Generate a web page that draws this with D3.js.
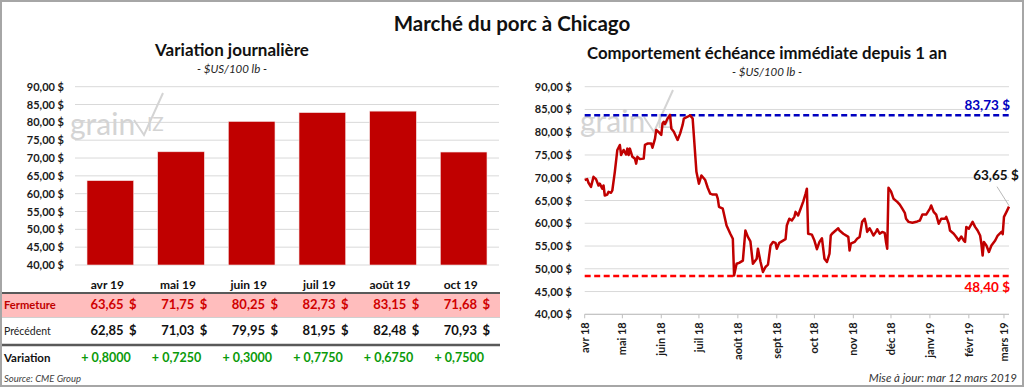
<!DOCTYPE html>
<html>
<head>
<meta charset="utf-8">
<script src="https://cdn.jsdelivr.net/npm/d3@7"></script>
<style>
  body { margin: 0; background: #fff; }
  svg { display: block; }
</style>
</head>
<body>
<svg id="chart" width="1024" height="387"></svg>
<script>
// Marché du porc à Chicago - two panels: daily variation + 1 year nearby contract

const FONT = "Lato, 'Open Sans', sans-serif";

// left panel: contracts
const contracts = ["avr 19", "mai 19", "juin 19", "juil 19", "août 19", "oct 19"];
const closeValues = [63.65, 71.75, 80.25, 82.73, 83.15, 71.68];
const prevValues = [62.85, 71.03, 79.95, 81.95, 82.48, 70.93];
const changeValues = [0.8, 0.725, 0.3, 0.775, 0.675, 0.75];

// right panel: nearby contract, days counted from 1 April 2018
const monthLabels = ["avr 18", "mai 18", "juin 18", "juil 18", "août 18", "sept 18",
  "oct 18", "nov 18", "déc 18", "janv 19", "févr 19", "mars 19"];
const priceDay = [0, 2, 3, 5, 7, 9, 11, 12, 14, 15, 16, 18, 19, 21, 22, 24, 26, 28, 29, 31,
  33, 34, 35, 36, 38, 40, 41, 42, 44, 47, 48, 50, 53, 54, 56, 57, 59, 61, 62, 63,
  64, 66, 68, 69, 71, 74, 76, 78, 79, 82, 84, 86, 89, 91, 93, 96, 98, 100, 102, 105,
  106, 107, 110, 113, 116, 118, 119, 121, 123, 126, 128, 130, 132, 134, 137, 138, 140, 142, 144, 146,
  148, 150, 152, 153, 155, 158, 160, 161, 163, 165, 167, 168, 170, 172, 174, 176, 177, 178, 181, 183,
  185, 187, 189, 191, 193, 195, 196, 197, 199, 202, 203, 206, 210, 211, 212, 215, 217, 219, 221, 223,
  224, 225, 227, 228, 230, 232, 233, 235, 237, 239, 240, 241, 242, 244, 246, 249, 251, 253, 255, 256,
  258, 261, 265, 267, 269, 272, 275, 276, 278, 280, 282, 284, 287, 288, 290, 291, 294, 296, 298, 300,
  302, 303, 304, 306, 309, 311, 313, 315, 316, 317, 318, 320, 322, 324, 327, 329, 332, 333, 334, 336, 338];
const priceClose = [69.5, 69.7, 68.9, 68.0, 70.2, 69.7, 68.3, 68.7, 67.6, 68.3, 66.1, 66.3, 66.9, 66.7, 67.2, 71.3, 76.1, 77.2, 75.0, 76.1,
  75.1, 76.4, 75.0, 76.4, 74.6, 74.2, 73.1, 74.6, 74.1, 74.2, 77.2, 77.5, 77.5, 76.6, 78.6, 80.5, 80.0, 79.4, 81.9, 82.3,
  81.8, 83.0, 83.8, 80.8, 80.1, 78.3, 79.7, 81.6, 83.0, 83.4, 83.7, 83.0, 71.3, 68.7, 70.5, 69.5, 67.8, 66.5, 66.3, 66.3,
  65.4, 63.6, 63.2, 59.5, 57.7, 56.6, 48.5, 51.1, 51.3, 51.8, 58.4, 57.0, 56.0, 51.1, 52.2, 54.4, 51.6, 49.3, 50.4, 50.9,
  55.1, 55.9, 55.7, 54.4, 55.7, 56.2, 56.5, 59.5, 61.0, 60.6, 61.4, 62.5, 61.7, 63.2, 64.7, 66.5, 67.6, 57.7, 57.5, 56.2,
  54.3, 55.9, 56.7, 52.2, 51.5, 53.3, 57.3, 57.7, 58.2, 58.9, 58.4, 57.7, 57.0, 54.0, 55.5, 55.9, 56.6, 57.0, 60.3, 61.0,
  59.9, 58.1, 58.9, 58.4, 57.3, 58.1, 58.7, 57.7, 58.1, 57.9, 55.9, 54.4, 67.8, 67.0, 65.4, 64.7, 64.1, 63.2, 62.3, 61.0,
  60.3, 60.1, 60.4, 60.6, 61.9, 61.9, 63.2, 63.9, 62.5, 61.9, 59.9, 61.0, 61.0, 61.4, 59.9, 58.4, 57.7, 57.0, 56.2, 57.1,
  56.2, 55.9, 59.2, 58.8, 60.3, 59.2, 58.4, 57.3, 55.5, 52.9, 55.9, 55.1, 53.7, 55.1, 56.2, 57.3, 58.1, 57.6, 61.4, 62.5, 63.65];
const highValue = 83.73;
const lowValue = 48.40;

const START = new Date(2018, 3, 1);
const series = priceDay.map((d, i) => ({ date: d3.timeDay.offset(START, d), value: priceClose[i] }));
const lastPoint = series[series.length - 1];

const fr = d3.formatLocale({ decimal: ",", thousands: " ", grouping: [3], currency: ["", " $"] });
const fmt2 = fr.format(",.2f");
const fmt4 = fr.format(".4f");

const svg = d3.select("#chart");

// outer frame
svg.append("rect")
  .attr("x", 1).attr("y", 1).attr("width", 1022).attr("height", 385)
  .style("fill", "none").style("stroke", "#a6a6a6").style("stroke-width", 2);

svg.append("text")
  .attr("x", 512).attr("y", 31)
  .attr("text-anchor", "middle")
  .text("Marché du porc à Chicago")
  .style("font-family", FONT).style("font-size", "20.5px").style("font-weight", "bold")
  .style("fill", "#111");

function titles(cx, y, title, size) {
  svg.append("text")
    .attr("x", cx).attr("y", y)
    .attr("text-anchor", "middle")
    .text(title)
    .style("font-family", FONT).style("font-size", size).style("font-weight", "bold")
    .style("fill", "#111");
  svg.append("text")
    .attr("x", cx).attr("y", y + 17)
    .attr("text-anchor", "middle")
    .text("- $US/100 lb -")
    .style("font-family", FONT).style("font-size", "11.5px").style("font-style", "italic")
    .style("fill", "#262626");
}

function watermark(x, y) {
  let g = svg.append("g").attr("transform", "translate(" + x + "," + y + ")");
  g.append("text")
    .attr("x", 0).attr("y", 0)
    .text("grain")
    .style("font-family", FONT).style("font-size", "30px")
    .style("fill", "#d4d4d4");
  g.append("path")
    .attr("d", "M 64,-15 L 74,0 L 93,-42")
    .style("fill", "none").style("stroke", "#d4d4d4").style("stroke-width", 2);
  g.append("text")
    .attr("x", 77).attr("y", -4)
    .text("IZ")
    .style("font-family", FONT).style("font-size", "19px")
    .style("fill", "#d4d4d4");
}

function yAxisLabels(scale, xRight, x1, x2) {
  let ticks = scale.ticks(10);
  svg.append("g").selectAll("line")
    .data(ticks).enter().append("line")
    .attr("x1", x1).attr("x2", x2)
    .attr("y1", d => scale(d)).attr("y2", d => scale(d))
    .style("stroke", "#d9d9d9").style("stroke-width", 1);
  svg.append("g").selectAll("text")
    .data(ticks).enter().append("text")
    .attr("x", xRight).attr("y", d => scale(d) + 4)
    .attr("text-anchor", "end")
    .text(d => fmt2(d) + " $")
    .style("font-family", FONT).style("font-size", "11px").style("font-weight", "bold")
    .style("fill", "#1a1a1a");
}

// ---------- left panel ----------
titles(232, 56, "Variation journalière", "17px");

const xL = d3.scaleBand().domain(contracts).range([75, 499]).paddingInner(0.34).paddingOuter(0.17);
const yL = d3.scaleLinear().domain([40, 90]).range([265, 86.7]);

yAxisLabels(yL, 64, 75, 499);
watermark(70, 135);

svg.append("g").selectAll("rect")
  .data(contracts).enter().append("rect")
  .attr("x", d => xL(d))
  .attr("y", (d, i) => yL(closeValues[i]))
  .attr("width", xL.bandwidth())
  .attr("height", (d, i) => yL(40) - yL(closeValues[i]))
  .style("fill", "#c00000")
  .style("stroke", "#f4dede").style("stroke-width", 0.6);

// table
const step = xL.step();
const colEnd = d => xL(d) + xL.bandwidth() + step * 0.17;
const colMid = d => xL(d) + xL.bandwidth() / 2;

svg.append("rect")
  .attr("x", 2).attr("y", 293).attr("width", 498).attr("height", 24)
  .style("fill", "#ffbdbd");
svg.append("line")
  .attr("x1", 2).attr("x2", 500).attr("y1", 293).attr("y2", 293)
  .style("stroke", "#595959").style("stroke-width", 2);
svg.append("line")
  .attr("x1", 2).attr("x2", 500).attr("y1", 317.5).attr("y2", 317.5)
  .style("stroke", "#d0d0d0").style("stroke-width", 1);
svg.append("line")
  .attr("x1", 2).attr("x2", 500).attr("y1", 345).attr("y2", 345)
  .style("stroke", "#595959").style("stroke-width", 2.5);

svg.append("g").selectAll("text")
  .data(contracts).enter().append("text")
  .attr("x", d => colMid(d) - 3).attr("y", 289)
  .attr("text-anchor", "middle")
  .text(d => d)
  .style("font-family", FONT).style("font-size", "12px").style("font-weight", "bold")
  .style("fill", "#111");

function rowLabel(y, label, color, weight, size) {
  svg.append("text")
    .attr("x", 4).attr("y", y)
    .text(label)
    .style("font-family", FONT).style("font-size", size).style("font-weight", weight)
    .style("fill", color);
}

function moneyRow(y, values, color) {
  let g = svg.append("g");
  g.selectAll("text.num")
    .data(contracts).enter().append("text")
    .attr("class", "num")
    .attr("x", d => colEnd(d) - 22).attr("y", y)
    .attr("text-anchor", "end")
    .text((d, i) => fmt2(values[i]))
    .style("font-family", FONT).style("font-size", "13px").style("font-weight", "bold")
    .style("fill", color);
  g.selectAll("text.cur")
    .data(contracts).enter().append("text")
    .attr("class", "cur")
    .attr("x", d => colEnd(d) - 9).attr("y", y)
    .attr("text-anchor", "end")
    .text("$")
    .style("font-family", FONT).style("font-size", "13px").style("font-weight", "bold")
    .style("fill", color);
}

rowLabel(309, "Fermeture", "#c00000", "bold", "11.2px");
moneyRow(309, closeValues, "#d00000");
rowLabel(335, "Précédent", "#222", "normal", "10.5px");
moneyRow(335, prevValues, "#111");
rowLabel(362, "Variation", "#111", "bold", "11.5px");

svg.append("g").selectAll("text")
  .data(contracts).enter().append("text")
  .attr("x", d => colEnd(d) - 15).attr("y", 362)
  .attr("text-anchor", "end")
  .text((d, i) => "+ " + fmt4(changeValues[i]))
  .style("font-family", FONT).style("font-size", "12.5px").style("font-weight", "bold")
  .style("fill", "#0a9a0a");

svg.append("text")
  .attr("x", 4).attr("y", 382)
  .text("Source: CME Group")
  .style("font-family", FONT).style("font-size", "9.5px").style("font-style", "italic")
  .style("fill", "#404040");

// ---------- right panel ----------
titles(767, 59, "Comportement échéance immédiate depuis 1 an", "16.8px");

const xR = d3.scaleTime().domain([START, lastPoint.date]).range([584.7, 1009]);
const yR = d3.scaleLinear().domain([40, 90]).range([314.3, 86.7]);

yAxisLabels(yR, 572, 584.7, 1009);
watermark(580, 132);

// x axis
const monthTicks = xR.ticks(d3.timeMonth.every(1));
svg.append("line")
  .attr("x1", 584.7).attr("x2", 1009).attr("y1", yR(40)).attr("y2", yR(40))
  .style("stroke", "#bfbfbf").style("stroke-width", 1);
svg.append("g").selectAll("line")
  .data(monthTicks).enter().append("line")
  .attr("x1", d => xR(d)).attr("x2", d => xR(d))
  .attr("y1", yR(40)).attr("y2", yR(40) + 4)
  .style("stroke", "#bfbfbf").style("stroke-width", 1);
svg.append("g").selectAll("text")
  .data(monthTicks).enter().append("text")
  .attr("transform", d => "translate(" + (xR(d) + 4) + "," + (yR(40) + 8) + ") rotate(-90)")
  .attr("text-anchor", "end")
  .text((d, i) => monthLabels[i])
  .style("font-family", FONT).style("font-size", "11px").style("font-weight", "bold")
  .style("fill", "#1a1a1a");

// high / low reference lines
function refLine(value, color, labelY) {
  svg.append("line")
    .attr("x1", 584.7).attr("x2", 1009)
    .attr("y1", yR(value)).attr("y2", yR(value))
    .style("stroke", color).style("stroke-width", 2.5).style("stroke-dasharray", "6,3.5");
  svg.append("text")
    .attr("x", 1010).attr("y", yR(value) + labelY)
    .attr("text-anchor", "end")
    .text(fmt2(value) + " $")
    .style("font-family", FONT).style("font-size", "13.5px").style("font-weight", "bold")
    .style("fill", color);
}
refLine(highValue, "#0000c0", -5);
refLine(lowValue, "#ff0000", 16);

const line = d3.line()
  .x(d => xR(d.date))
  .y(d => yR(d.value));

svg.append("path")
  .datum(series)
  .attr("d", line)
  .style("fill", "none")
  .style("stroke", "#c00000")
  .style("stroke-width", 2.5)
  .style("stroke-linejoin", "round");

// last value callout
svg.append("line")
  .attr("x1", xR(lastPoint.date) - 12).attr("y1", yR(lastPoint.value) - 20)
  .attr("x2", xR(lastPoint.date)).attr("y2", yR(lastPoint.value) - 1)
  .style("stroke", "#a6a6a6").style("stroke-width", 0.8);
svg.append("text")
  .attr("x", xR(lastPoint.date) - 13).attr("y", yR(lastPoint.value) - 27)
  .attr("text-anchor", "middle")
  .text(fmt2(lastPoint.value) + " $")
  .style("font-family", FONT).style("font-size", "13.5px").style("font-weight", "bold")
  .style("fill", "#111");

svg.append("text")
  .attr("x", 1017).attr("y", 382)
  .attr("text-anchor", "end")
  .text("Mise à jour: mar 12 mars 2019")
  .style("font-family", FONT).style("font-size", "11.5px").style("font-style", "italic")
  .style("fill", "#333");
</script>
</body>
</html>
